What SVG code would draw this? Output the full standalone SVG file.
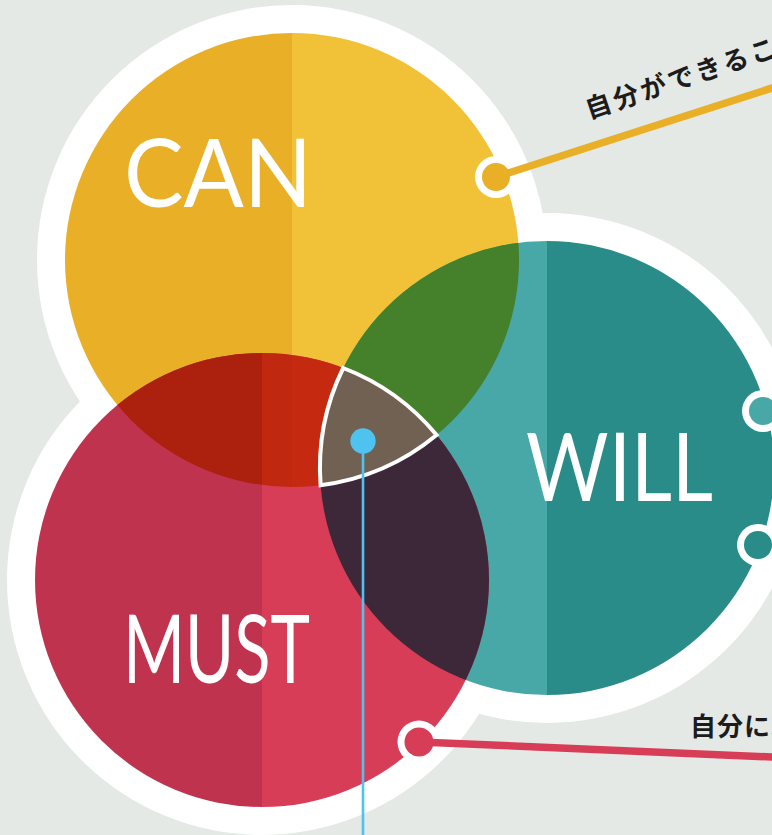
<svg xmlns="http://www.w3.org/2000/svg" width="772" height="835" viewBox="0 0 772 835">
<defs>
<style>
.big{font-family:"Lato","Liberation Sans",sans-serif;font-weight:400;font-size:95px;fill:#fff}
.jp{font-family:"Noto Sans CJK JP","Noto Sans",sans-serif;font-weight:700;font-size:26px;fill:#1c1c1c}
.halo{fill:#fff}
</style>
<clipPath id="cCan"><circle cx="292" cy="260" r="227"/></clipPath>
<clipPath id="cWill"><circle cx="547" cy="468" r="227"/></clipPath>
<clipPath id="cMust"><circle cx="262" cy="580" r="227"/></clipPath>
</defs>
<rect width="772" height="835" fill="#E4E9E6"/>
<g id="halo" class="halo">
<circle cx="292" cy="260" r="255"/>
<circle cx="547" cy="468" r="255"/>
<circle cx="262" cy="580" r="255"/>
</g>
<g id="node-can">
<g clip-path="url(#cCan)">
<rect x="0" y="0" width="292" height="500" fill="#E8AF27"/>
<rect x="292" y="0" width="260" height="500" fill="#F1C137"/>
</g>
<text class="big" x="124" y="207" textLength="188" lengthAdjust="spacingAndGlyphs">CAN</text>
</g>
<g id="node-will">
<g clip-path="url(#cWill)">
<rect x="300" y="230" width="247" height="480" fill="#47A8A7"/>
<rect x="547" y="230" width="240" height="480" fill="#2A8C89"/>
</g>
</g>
<g id="node-must">
<g clip-path="url(#cMust)">
<rect x="20" y="340" width="242" height="480" fill="#C0334F"/>
<rect x="262" y="340" width="240" height="480" fill="#D73D57"/>
</g>
</g>
<g id="overlaps">
<g clip-path="url(#cCan)"><g clip-path="url(#cMust)">
<rect x="20" y="340" width="242" height="200" fill="#AC200E"/>
<rect x="262" y="340" width="30" height="200" fill="#C0280F"/>
<rect x="292" y="340" width="220" height="200" fill="#C52A10"/>
</g></g>
<g clip-path="url(#cCan)"><g clip-path="url(#cWill)">
<rect x="300" y="230" width="240" height="280" fill="#45802A"/>
</g></g>
<g clip-path="url(#cWill)"><g clip-path="url(#cMust)">
<rect x="300" y="340" width="220" height="380" fill="#3C2839"/>
</g></g>
<path id="node-all" d="M343.2,368 A227,227 0 0 1 436.6,435 A227,227 0 0 1 320.6,485.2 A227,227 0 0 1 343.2,368 Z" fill="#716152" stroke="#fff" stroke-width="4"/>
</g>
<g id="node-will-label"><text class="big" x="526" y="500.5" textLength="187" lengthAdjust="spacingAndGlyphs">WILL</text></g>
<g id="node-must-label"><text class="big" x="123" y="682.5" textLength="187" lengthAdjust="spacingAndGlyphs">MUST</text></g>
<g id="connectors">
<circle cx="496" cy="177" r="21" fill="#fff"/>
<line x1="496" y1="177" x2="800" y2="79" stroke="#E8AF27" stroke-width="7.5"/>
<circle cx="496" cy="177" r="14" fill="#E8AF27"/>
<circle cx="419" cy="742" r="21.5" fill="#fff"/>
<line x1="419" y1="742" x2="800" y2="758.2" stroke="#D73D57" stroke-width="7.5"/>
<circle cx="419" cy="742" r="14.5" fill="#D73D57"/>
<circle cx="763" cy="411" r="21" fill="#fff"/>
<circle cx="763" cy="411" r="14" fill="#47A8A7"/>
<circle cx="758" cy="545" r="21" fill="#fff"/>
<circle cx="758" cy="545" r="14" fill="#2A8C89"/>
<line x1="363" y1="441" x2="363" y2="835" stroke="#4EC3F0" stroke-width="2.6"/>
<circle cx="363" cy="441" r="12.7" fill="#4EC3F0"/>
</g>
<g id="labels">
<text class="jp" transform="translate(589,119) rotate(-18.5)" letter-spacing="3">自分ができること</text>
<text class="jp" x="690" y="736" letter-spacing="1">自分に求められること</text>
</g>
</svg>
